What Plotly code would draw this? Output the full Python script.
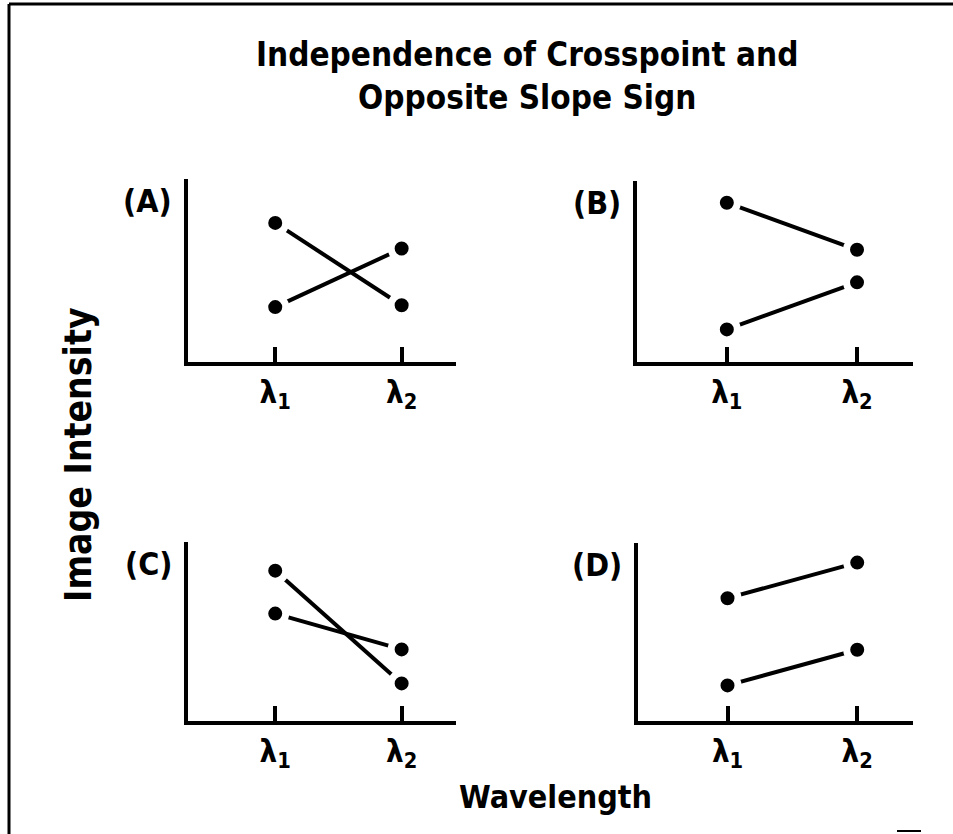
import plotly.graph_objects as go

# Figure size in pixels
W, H = 953, 834

# Data: two wavelengths, two series per panel (relative image intensity 0-10)
wavelengths = [1, 2]
tick_labels = ["<b>λ<sub>1</sub></b>", "<b>λ<sub>2</sub></b>"]
panel_names = ["(A)", "(B)", "(C)", "(D)"]

a_first = [7.6, 3.1]
a_second = [3.0, 6.2]
b_first = [8.8, 6.2]
b_second = [1.8, 4.4]
c_first = [8.4, 2.1]
c_second = [6.0, 4.0]
d_first = [6.9, 8.9]
d_second = [2.0, 4.0]

panels = [(a_first, a_second), (b_first, b_second),
          (c_first, c_second), (d_first, d_second)]

FONT = "Liberation Sans Narrow, DejaVu Sans Condensed, Arial Narrow, sans-serif"


def px_x(p):
    return p / W


def px_y(p):
    return 1 - p / H


# Panel boxes in pixels: (left, right, top, bottom)
boxes = [(188, 456, 179, 362), (637, 913, 181, 362),
         (188, 456, 542, 721), (638, 913, 543, 721)]

fig = go.Figure()

for i, ((s1, s2), box) in enumerate(zip(panels, boxes)):
    n = "" if i == 0 else str(i + 1)
    for s in (s1, s2):
        # white ring round each dot leaves the small gap seen in the drawing
        fig.add_trace(go.Scatter(
            x=wavelengths, y=s, mode="lines+markers",
            line=dict(color="black", width=4),
            marker=dict(size=21, color="black",
                        line=dict(color="white", width=7)),
            xaxis="x" + n, yaxis="y" + n, showlegend=False,
            hoverinfo="skip"
        ))
    left, right, top, bottom = box
    fig.update_layout({
        "xaxis" + n: dict(
            domain=[px_x(left), px_x(right)], range=[0.31, 2.43],
            anchor="y" + n, showline=True, linecolor="black", linewidth=3.5,
            showgrid=False, zeroline=False, ticks="inside", ticklen=15,
            tickwidth=3.5, tickcolor="black", tickvals=wavelengths,
            ticktext=tick_labels,
            tickfont=dict(family=FONT, size=31, color="black")
        ),
        "yaxis" + n: dict(
            domain=[px_y(bottom), px_y(top)], range=[0, 10],
            anchor="x" + n, showline=True, linecolor="black", linewidth=3.5,
            showgrid=False, zeroline=False, showticklabels=False, ticks=""
        )
    })
    fig.add_annotation(
        text="<b>" + panel_names[i] + "</b>", xref="paper", yref="paper",
        x=px_x(left - 14), y=px_y(top + 22), xanchor="right", yanchor="middle",
        showarrow=False, font=dict(family=FONT, size=32, color="black")
    )

# Title, axis titles
fig.add_annotation(
    text="<b>Independence of Crosspoint and<br>Opposite Slope Sign</b>",
    xref="paper", yref="paper", x=px_x(527), y=px_y(76),
    xanchor="center", yanchor="middle", showarrow=False,
    font=dict(family=FONT, size=33, color="black")
)
fig.add_annotation(
    text="<b>Image Intensity</b>", xref="paper", yref="paper",
    x=px_x(78), y=px_y(455), textangle=-90, xanchor="center",
    yanchor="middle", showarrow=False,
    font=dict(family=FONT, size=37, color="black")
)
fig.add_annotation(
    text="<b>Wavelength</b>", xref="paper", yref="paper",
    x=px_x(555), y=px_y(797), xanchor="center", yanchor="middle",
    showarrow=False, font=dict(family=FONT, size=32, color="black")
)

# Scanned frame edges
fig.add_shape(type="line", xref="paper", yref="paper",
              x0=px_x(9), x1=1, y0=px_y(4), y1=px_y(4),
              line=dict(color="black", width=3))
fig.add_shape(type="line", xref="paper", yref="paper",
              x0=px_x(9), x1=px_x(9), y0=px_y(4), y1=0,
              line=dict(color="black", width=3))
fig.add_shape(type="line", xref="paper", yref="paper",
              x0=px_x(897), x1=px_x(921), y0=px_y(831), y1=px_y(831),
              line=dict(color="black", width=2))

fig.update_layout(
    width=W, height=H,
    margin=dict(l=0, r=0, t=0, b=0),
    paper_bgcolor="white", plot_bgcolor="white",
    font=dict(family=FONT, color="black")
)

# drop the browser's default body margin so the figure sits at 0,0
fig.write_html("out.html", config={"displayModeBar": False},
               post_script="document.body.style.margin='0';")
